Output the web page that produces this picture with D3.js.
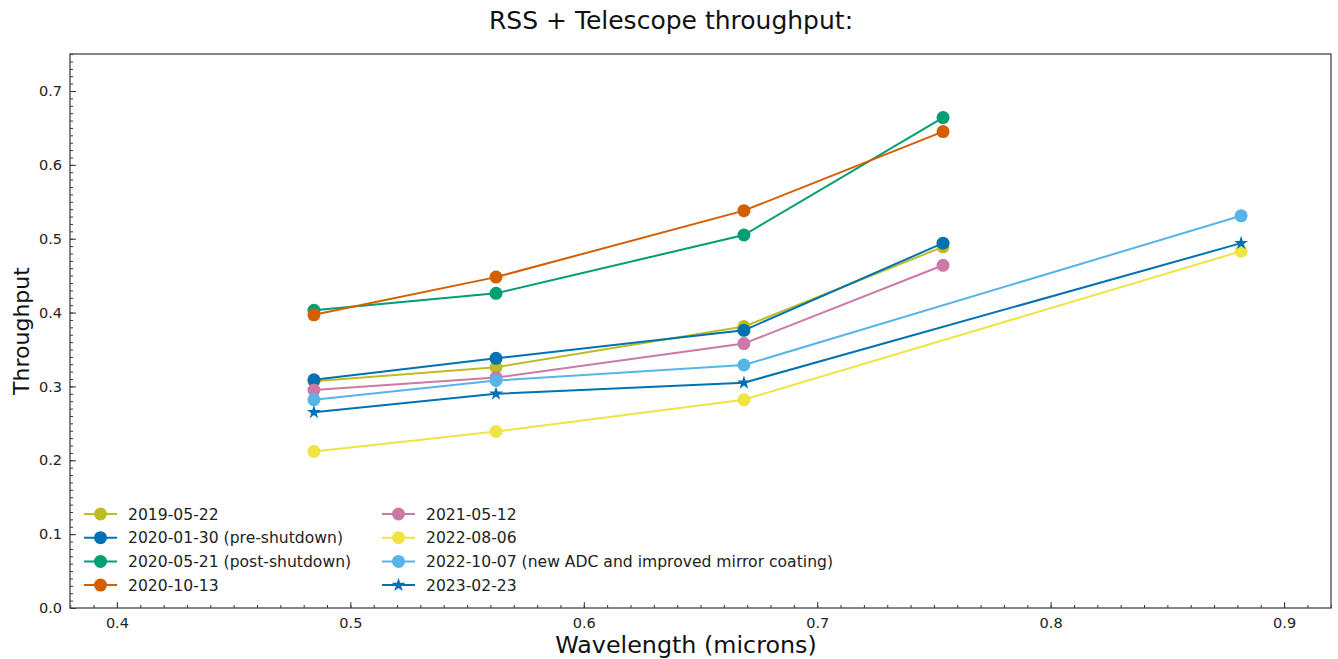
<!DOCTYPE html>
<html><head><meta charset="utf-8">
<script src="https://cdn.jsdelivr.net/npm/d3@7"></script>
<style>body{margin:0;background:#fff;font-family:"DejaVu Sans",sans-serif;}</style>
</head><body><svg id="c" width="1338" height="659"></svg>
<script>
const wl4 = [0.4844, 0.5624, 0.6686, 0.7539];
const wl4b = [0.4844, 0.5624, 0.6686, 0.8816];
const labels = ["2019-05-22","2020-01-30 (pre-shutdown)","2020-05-21 (post-shutdown)","2020-10-13","2021-05-12","2022-08-06","2022-10-07 (new ADC and improved mirror coating)","2023-02-23"];
const colors = ["#bcbd22","#0072b2","#009e73","#d55e00","#cc79a7","#f0e442","#56b4e9","#0072b2"];
const markers = ["circle","circle","circle","circle","circle","circle","circle","star"];
const v2019 = [0.307, 0.326, 0.381, 0.489];
const v2020a = [0.309, 0.338, 0.376, 0.494];
const v2020b = [0.403, 0.426, 0.505, 0.664];
const v2020c = [0.397, 0.448, 0.538, 0.645];
const v2021 = [0.295, 0.312, 0.358, 0.464];
const v2022a = [0.212, 0.239, 0.282, 0.483];
const v2022b = [0.282, 0.308, 0.329, 0.531];
const v2023 = [0.265, 0.290, 0.305, 0.494];
const xsets = [wl4, wl4, wl4, wl4, wl4, wl4b, wl4b, wl4b];
const ysets = [v2019, v2020a, v2020b, v2020c, v2021, v2022a, v2022b, v2023];
const xTicks = [0.4,0.5,0.6,0.7,0.8,0.9];
const yTicks = [0.0,0.1,0.2,0.3,0.4,0.5,0.6,0.7];

const svg = d3.select("#c");
const L=70,R=1331,T=54,B=608;
const x = d3.scaleLinear().domain([0.3799,0.9201]).range([L,R]);
const y = d3.scaleLinear().domain([0,0.7501]).range([B,T]);

svg.append("text").attr("x",671).attr("y",29).attr("text-anchor","middle").attr("font-size",25).attr("fill","#111").text("RSS + Telescope throughput:");

const xMinor = d3.range(38,93).map(d=>d/100);
const yMinor = d3.range(0,76).map(d=>d/100);
const g = svg.append("g");
const xAxis = d3.axisBottom(x).tickValues(xTicks).tickFormat(d3.format(".1f")).tickSizeInner(-6).tickSizeOuter(0).tickPadding(10);
const yAxis = d3.axisLeft(y).tickValues(yTicks).tickFormat(d3.format(".1f")).tickSizeInner(-6).tickSizeOuter(0).tickPadding(8);
const xm = g.append("g").attr("transform",`translate(0,${B})`).call(d3.axisBottom(x).tickValues(xMinor).tickFormat("").tickSizeInner(-3).tickSizeOuter(0));
const ym = g.append("g").attr("transform",`translate(${L},0)`).call(d3.axisLeft(y).tickValues(yMinor).tickFormat("").tickSizeInner(-3).tickSizeOuter(0));
const xa = g.append("g").attr("transform",`translate(0,${B})`).call(xAxis);
const ya = g.append("g").attr("transform",`translate(${L},0)`).call(yAxis);
[xm,ym,xa,ya].forEach(a=>{a.select(".domain").remove();a.selectAll("line").attr("stroke","#333");a.selectAll("text").attr("font-size",14.5).attr("fill","#222").attr("font-family","DejaVu Sans");});
svg.append("rect").attr("x",L).attr("y",T).attr("width",R-L).attr("height",B-T).attr("fill","none").attr("stroke","#444").attr("stroke-width",1.3);

svg.append("text").attr("x",686).attr("y",653).attr("text-anchor","middle").attr("font-size",23.8).attr("fill","#111").text("Wavelength (microns)");
svg.append("text").attr("transform","translate(29,331) rotate(-90)").attr("text-anchor","middle").attr("font-size",22).attr("fill","#111").text("Throughput");

const line = d3.line().x(d=>x(d[0])).y(d=>y(d[1]));
const star = d3.symbol().type(d3.symbolStar).size(60);
function marker(sel, type, color, cx, cy){
  if(type==="circle") sel.append("circle").attr("cx",cx).attr("cy",cy).attr("r",6.5).attr("fill",color);
  else sel.append("path").attr("d",star()).attr("transform",`translate(${cx},${cy})`).attr("fill",color);
}
const plot = svg.append("g");
ysets.forEach((ys,i)=>{
  const pts = xsets[i].map((xv,j)=>[xv,ys[j]]);
  const gg = plot.append("g");
  gg.append("path").attr("d",line(pts)).attr("fill","none").attr("stroke",colors[i]).attr("stroke-width",2);
  pts.forEach(p=>marker(gg,markers[i],colors[i],x(p[0]),y(p[1])));
});

const leg = svg.append("g");
labels.forEach((lab,i)=>{
  const col = Math.floor(i/4), row = i%4;
  const lx = col===0 ? 84 : 382, ly = 514 + row*23.7;
  leg.append("line").attr("x1",lx).attr("x2",lx+33).attr("y1",ly).attr("y2",ly).attr("stroke",colors[i]).attr("stroke-width",2);
  marker(leg,markers[i],colors[i],lx+16.5,ly);
  leg.append("text").attr("x",lx+44).attr("y",ly+5.5).attr("font-size",15.6).attr("fill","#222").text(lab);
});
</script></body></html>
